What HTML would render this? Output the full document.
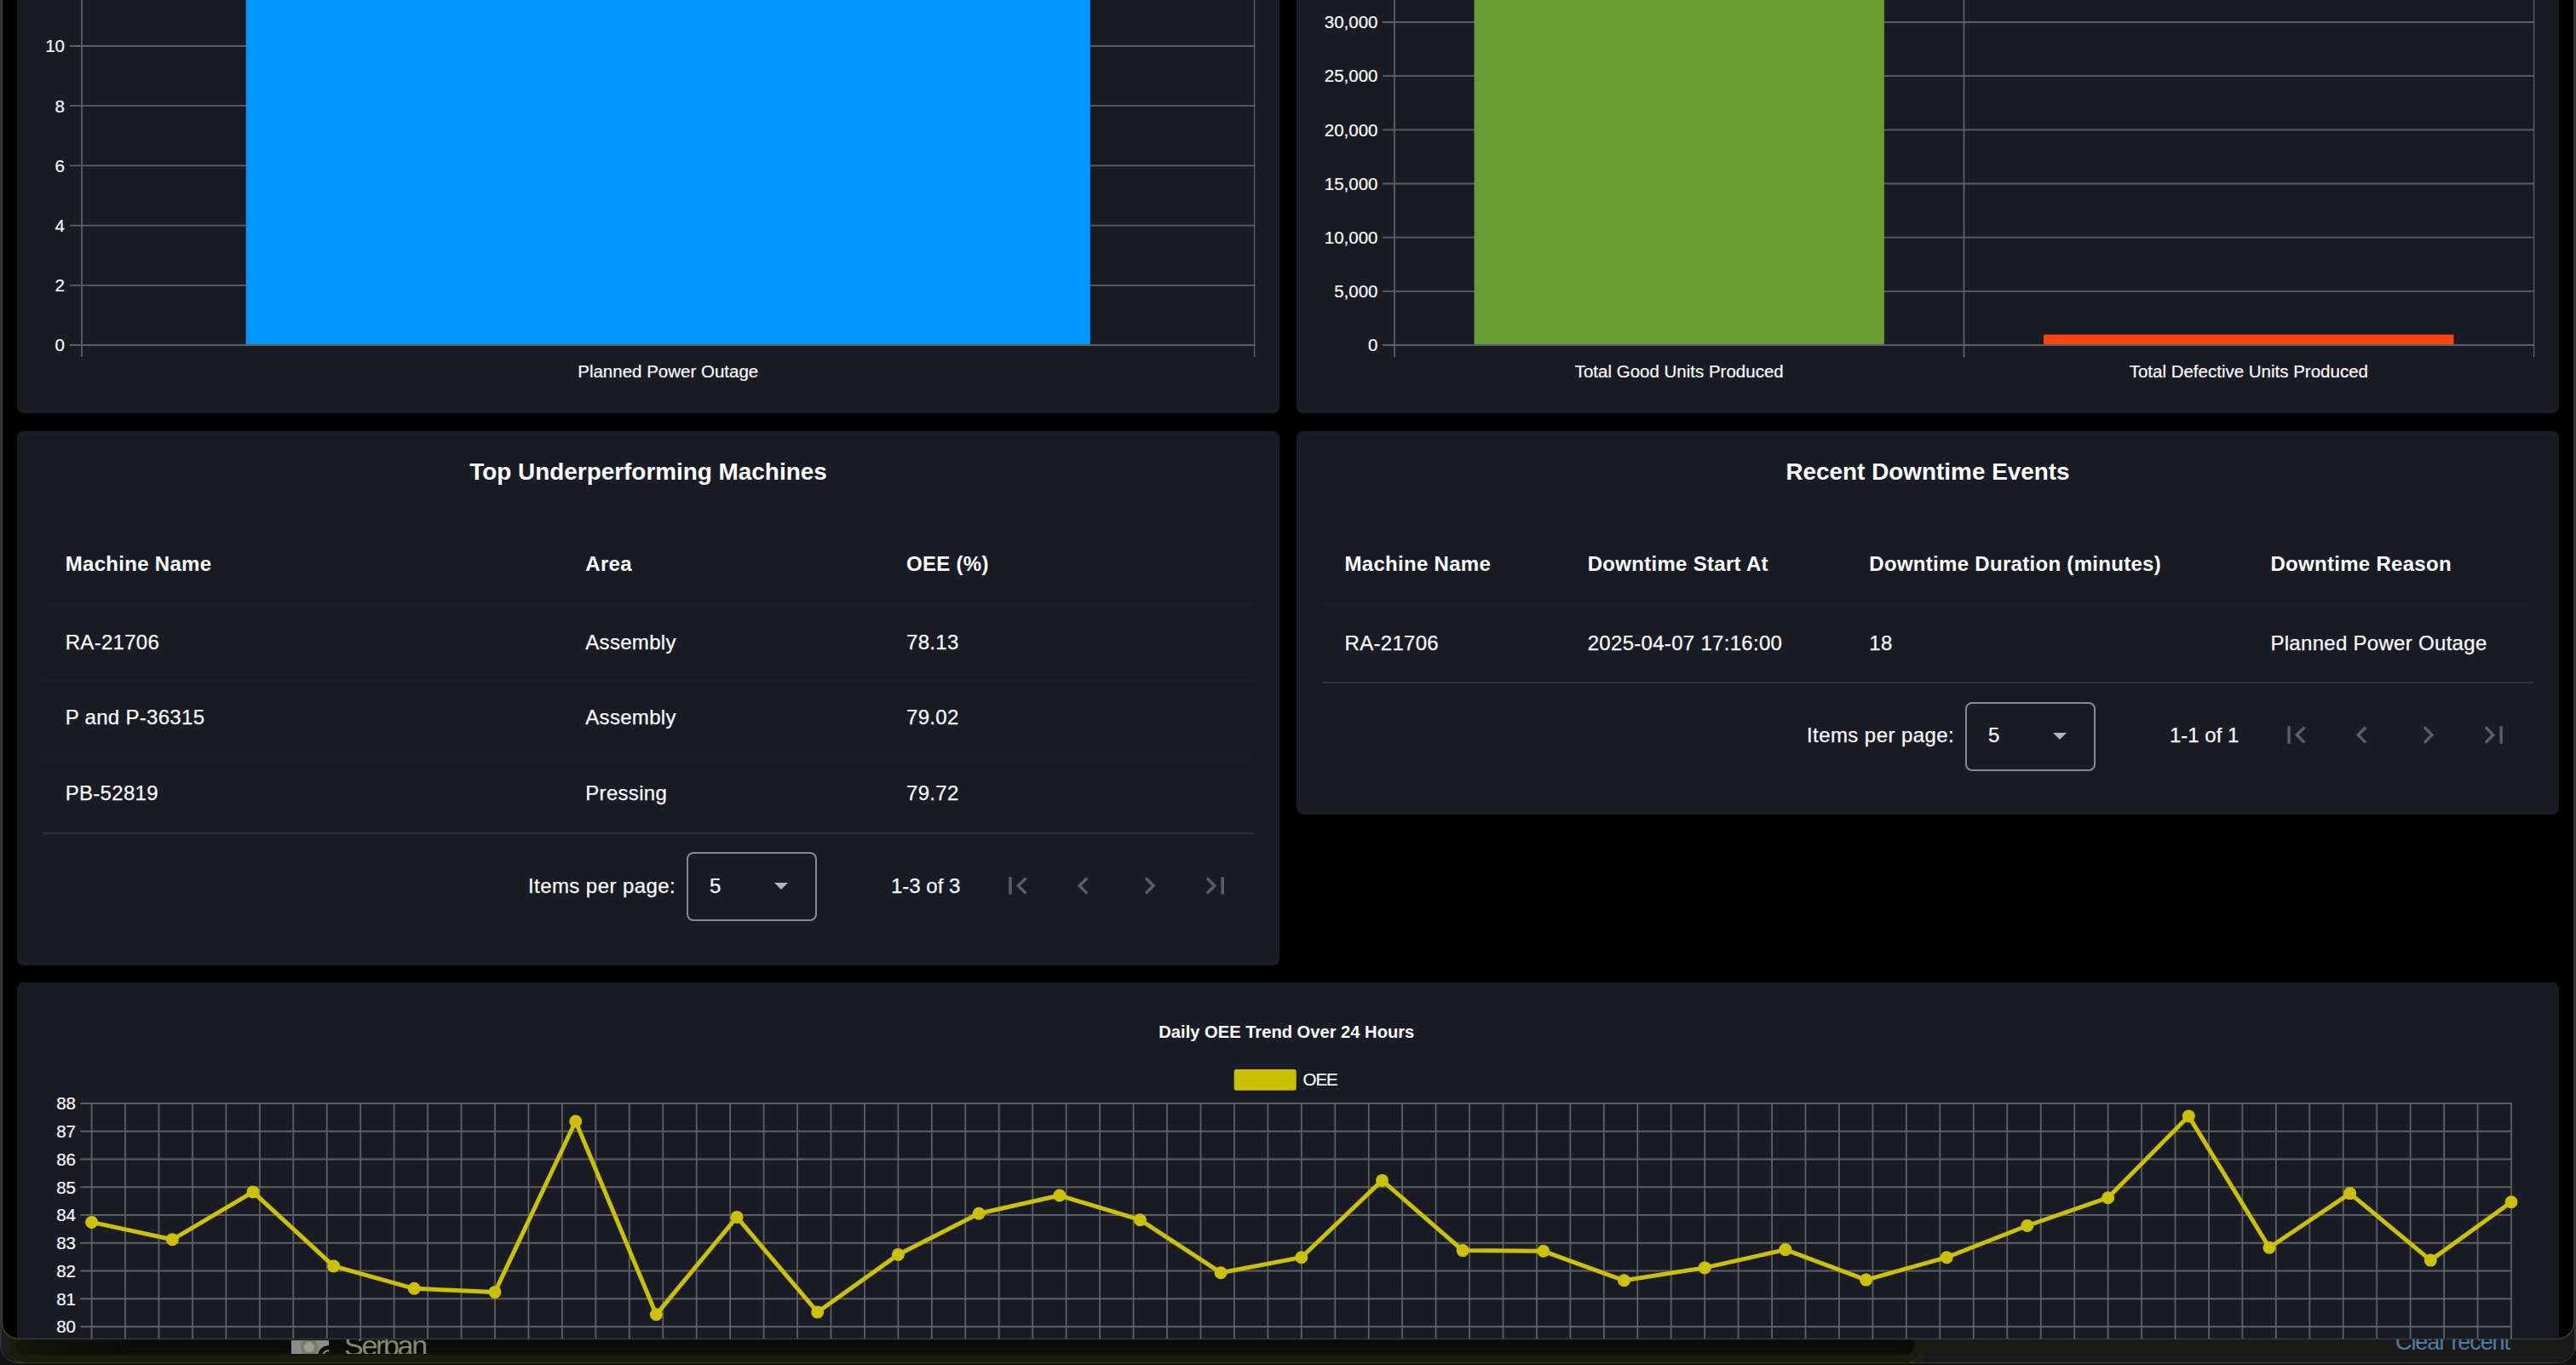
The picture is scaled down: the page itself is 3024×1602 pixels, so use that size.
<!DOCTYPE html>
<html lang="en"><head><meta charset="utf-8"><title>OEE Dashboard</title>
<style>
html,body{margin:0;padding:0;background:#000;}
body{width:3024px;height:1602px;position:relative;overflow:hidden;font-family:"Liberation Sans",Arial,Helvetica,sans-serif;color:#fafafa;}
.card{position:absolute;background:#1a1c25;border-radius:8px;}
.ct{font-family:"Liberation Sans",Arial,sans-serif;font-size:20.5px;fill:#fafafa;stroke:#fafafa;stroke-width:0.2px;}
.ctb{font-family:"Liberation Sans",Arial,sans-serif;font-size:20.15px;font-weight:bold;fill:#fff;}
#g{position:absolute;left:0;top:0;}
#winb{position:absolute;left:2px;top:-40px;width:3020px;height:1612px;border-radius:20px;box-sizing:border-box;border:1px solid #3f4146;border-top:none;}
.t{position:absolute;-webkit-text-stroke:0.25px #fafafa;font-size:24px;line-height:28px;white-space:nowrap;letter-spacing:0.3px;color:#fafafa;}
.pg{letter-spacing:0.42px;}
.rg{letter-spacing:0;}
.h{font-weight:bold;color:#fff;-webkit-text-stroke:0;}
.title{position:absolute;font-size:27.9px;line-height:32px;font-weight:bold;white-space:nowrap;color:#fff;text-align:center;}
.sep{position:absolute;height:2px;background:#1d1f28;}
.sep.s{background:#303238;}
.sel{position:absolute;width:149px;height:77px;border:2px solid #8a8a8a;border-radius:8px;}
.arrow{position:absolute;width:0;height:0;border-left:8.75px solid transparent;border-right:8.75px solid transparent;border-top:8.75px solid #b5b5b5;}
.ic{position:absolute;width:41.14px;height:41.14px;fill:#5e5e5e;}
#win{position:absolute;left:2px;top:-40px;width:3020px;height:1611.5px;background:#000;border-radius:20px;overflow:hidden;box-sizing:border-box;border:1px solid #3b3d42;border-top:none;}
#below{position:absolute;left:0;top:1540px;width:3024px;height:62px;background:#121212;overflow:hidden;}
#lstrip{position:absolute;left:0;top:0;width:2px;height:1580px;background:#2f3136;}
#rstrip{position:absolute;left:3022px;top:0;width:2px;height:1585px;background:#343539;}
</style></head><body>
<div id="below">
  <div style="position:absolute;left:0;top:0;width:3024px;height:60px;background:#1b1c20;border-radius:0 0 22px 22px;border:1px solid #3a3a3d;box-sizing:border-box;"></div>
  <div style="position:absolute;left:2258px;top:0;width:764px;height:59px;background:#1a1a19;border-radius:0 0 21px 0;"></div>
  <div style="position:absolute;left:10px;top:0;width:2248px;height:59.5px;border-radius:0 0 20px 20px;background:#1b1d0b;border-bottom:1.5px solid #35351f;box-sizing:border-box;"></div>
  <div style="position:absolute;left:18px;top:0;width:2229.5px;height:50px;border-radius:0 0 12px 12px;background:linear-gradient(to right,#16180a 0,#111208 40px,#0c0c0a 120px);"></div>
  <div style="position:absolute;left:141px;top:0;width:2106px;height:49px;border-radius:0 0 12px 12px;background:#0b0b0a;border:1px solid #161616;box-sizing:border-box;"></div>
  <div style="position:absolute;left:342px;top:33px;width:44px;height:16px;background:#8b8b8c;overflow:hidden;">
    <div style="position:absolute;left:11px;top:-4px;width:20px;height:24px;border-radius:50%;background:#77774f;opacity:.75"></div>
    <div style="position:absolute;left:15px;top:2px;width:12px;height:12px;border-radius:50%;background:#9a9a9a;"></div>
    <div style="position:absolute;left:31px;top:6px;width:26px;height:26px;border-radius:50%;background:#0c0c0a;"></div>
    <div style="position:absolute;left:36px;top:11px;width:16px;height:16px;border-radius:50%;border:2px solid #8b8b8c;box-sizing:border-box;"></div>
  </div>
  <div style="position:absolute;left:395px;top:32px;width:130px;height:17px;overflow:hidden;"><div style="position:absolute;left:9px;top:-9.8px;font-size:34px;line-height:34px;letter-spacing:-2.3px;color:#85886a;white-space:nowrap;">Serban</div></div>
  <div style="position:absolute;left:2812px;top:19.8px;font-size:27px;line-height:30px;letter-spacing:-1.1px;color:#4b7ea6;white-space:nowrap;">Clear recent</div>
</div>
<div id="lstrip"></div><div id="rstrip"></div>
<div id="win"></div>
<div class="card" style="left:20px;top:-20px;width:1482px;height:505px"></div>
<div class="card" style="left:1522px;top:-20px;width:1482px;height:505px"></div>
<div class="card" style="left:20px;top:506px;width:1482px;height:627px"></div>
<div class="card" style="left:1522px;top:506px;width:1482px;height:450px"></div>
<div class="card" style="left:20px;top:1153px;width:2984px;height:418px;border-radius:8px 8px 0 0"></div>
<svg id="g" width="3024" height="1571" viewBox="0 0 3024 1571">
<line x1="82" y1="405.0" x2="1473.5" y2="405.0" stroke="#606060" stroke-width="1.8"/>
<line x1="82" y1="334.8" x2="1473.5" y2="334.8" stroke="#606060" stroke-width="1.8"/>
<line x1="82" y1="264.6" x2="1473.5" y2="264.6" stroke="#606060" stroke-width="1.8"/>
<line x1="82" y1="194.39999999999998" x2="1473.5" y2="194.39999999999998" stroke="#606060" stroke-width="1.8"/>
<line x1="82" y1="124.19999999999999" x2="1473.5" y2="124.19999999999999" stroke="#606060" stroke-width="1.8"/>
<line x1="82" y1="54.0" x2="1473.5" y2="54.0" stroke="#606060" stroke-width="1.8"/>
<line x1="96" y1="-5" x2="96" y2="419" stroke="#606060" stroke-width="1.8"/>
<line x1="1472.6" y1="-5" x2="1472.6" y2="419" stroke="#606060" stroke-width="1.3"/>
<rect x="288.71" y="-5.00" width="991.08" height="409.00" fill="#0096ff"/>
<text x="76" y="412.3" text-anchor="end" class="ct">0</text>
<text x="76" y="342.1" text-anchor="end" class="ct">2</text>
<text x="76" y="271.9" text-anchor="end" class="ct">4</text>
<text x="76" y="201.7" text-anchor="end" class="ct">6</text>
<text x="76" y="131.5" text-anchor="end" class="ct">8</text>
<text x="76" y="61.3" text-anchor="end" class="ct">10</text>
<text x="784.2" y="442.8" text-anchor="middle" class="ct">Planned Power Outage</text>
<line x1="1623" y1="405.0" x2="2975" y2="405.0" stroke="#606060" stroke-width="1.8"/>
<line x1="1623" y1="341.83" x2="2975" y2="341.83" stroke="#606060" stroke-width="1.8"/>
<line x1="1623" y1="278.65999999999997" x2="2975" y2="278.65999999999997" stroke="#606060" stroke-width="1.8"/>
<line x1="1623" y1="215.49" x2="2975" y2="215.49" stroke="#606060" stroke-width="1.8"/>
<line x1="1623" y1="152.32" x2="2975" y2="152.32" stroke="#606060" stroke-width="1.8"/>
<line x1="1623" y1="89.14999999999998" x2="2975" y2="89.14999999999998" stroke="#606060" stroke-width="1.8"/>
<line x1="1623" y1="25.980000000000018" x2="2975" y2="25.980000000000018" stroke="#606060" stroke-width="1.8"/>
<line x1="1637" y1="-5" x2="1637" y2="419" stroke="#606060" stroke-width="1.8"/>
<line x1="2305.5" y1="-5" x2="2305.5" y2="419" stroke="#606060" stroke-width="1.8"/>
<line x1="2974.6" y1="-5" x2="2974.6" y2="419" stroke="#606060" stroke-width="1.3"/>
<rect x="1730.59" y="-5.00" width="481.32" height="409.00" fill="#689d35"/>
<rect x="2399.09" y="392.60" width="481.32" height="11.40" fill="#ff4411"/>
<text x="1617.5" y="412.3" text-anchor="end" class="ct">0</text>
<text x="1617.5" y="349.1" text-anchor="end" class="ct">5,000</text>
<text x="1617.5" y="286.0" text-anchor="end" class="ct">10,000</text>
<text x="1617.5" y="222.8" text-anchor="end" class="ct">15,000</text>
<text x="1617.5" y="159.6" text-anchor="end" class="ct">20,000</text>
<text x="1617.5" y="96.4" text-anchor="end" class="ct">25,000</text>
<text x="1617.5" y="33.3" text-anchor="end" class="ct">30,000</text>
<text x="1971.2" y="442.8" text-anchor="middle" class="ct">Total Good Units Produced</text>
<text x="2639.8" y="442.8" text-anchor="middle" class="ct">Total Defective Units Produced</text>
<line x1="107.60" y1="1294" x2="107.60" y2="1580" stroke="#606060" stroke-width="1.8"/>
<line x1="147.05" y1="1294" x2="147.05" y2="1580" stroke="#606060" stroke-width="1.8"/>
<line x1="186.50" y1="1294" x2="186.50" y2="1580" stroke="#606060" stroke-width="1.8"/>
<line x1="225.95" y1="1294" x2="225.95" y2="1580" stroke="#606060" stroke-width="1.8"/>
<line x1="265.40" y1="1294" x2="265.40" y2="1580" stroke="#606060" stroke-width="1.8"/>
<line x1="304.85" y1="1294" x2="304.85" y2="1580" stroke="#606060" stroke-width="1.8"/>
<line x1="344.30" y1="1294" x2="344.30" y2="1580" stroke="#606060" stroke-width="1.8"/>
<line x1="383.75" y1="1294" x2="383.75" y2="1580" stroke="#606060" stroke-width="1.8"/>
<line x1="423.20" y1="1294" x2="423.20" y2="1580" stroke="#606060" stroke-width="1.8"/>
<line x1="462.65" y1="1294" x2="462.65" y2="1580" stroke="#606060" stroke-width="1.8"/>
<line x1="502.10" y1="1294" x2="502.10" y2="1580" stroke="#606060" stroke-width="1.8"/>
<line x1="541.55" y1="1294" x2="541.55" y2="1580" stroke="#606060" stroke-width="1.8"/>
<line x1="581.00" y1="1294" x2="581.00" y2="1580" stroke="#606060" stroke-width="1.8"/>
<line x1="620.45" y1="1294" x2="620.45" y2="1580" stroke="#606060" stroke-width="1.8"/>
<line x1="659.90" y1="1294" x2="659.90" y2="1580" stroke="#606060" stroke-width="1.8"/>
<line x1="699.35" y1="1294" x2="699.35" y2="1580" stroke="#606060" stroke-width="1.8"/>
<line x1="738.80" y1="1294" x2="738.80" y2="1580" stroke="#606060" stroke-width="1.8"/>
<line x1="778.25" y1="1294" x2="778.25" y2="1580" stroke="#606060" stroke-width="1.8"/>
<line x1="817.70" y1="1294" x2="817.70" y2="1580" stroke="#606060" stroke-width="1.8"/>
<line x1="857.15" y1="1294" x2="857.15" y2="1580" stroke="#606060" stroke-width="1.8"/>
<line x1="896.60" y1="1294" x2="896.60" y2="1580" stroke="#606060" stroke-width="1.8"/>
<line x1="936.05" y1="1294" x2="936.05" y2="1580" stroke="#606060" stroke-width="1.8"/>
<line x1="975.50" y1="1294" x2="975.50" y2="1580" stroke="#606060" stroke-width="1.8"/>
<line x1="1014.95" y1="1294" x2="1014.95" y2="1580" stroke="#606060" stroke-width="1.8"/>
<line x1="1054.40" y1="1294" x2="1054.40" y2="1580" stroke="#606060" stroke-width="1.8"/>
<line x1="1093.85" y1="1294" x2="1093.85" y2="1580" stroke="#606060" stroke-width="1.8"/>
<line x1="1133.30" y1="1294" x2="1133.30" y2="1580" stroke="#606060" stroke-width="1.8"/>
<line x1="1172.75" y1="1294" x2="1172.75" y2="1580" stroke="#606060" stroke-width="1.8"/>
<line x1="1212.20" y1="1294" x2="1212.20" y2="1580" stroke="#606060" stroke-width="1.8"/>
<line x1="1251.65" y1="1294" x2="1251.65" y2="1580" stroke="#606060" stroke-width="1.8"/>
<line x1="1291.10" y1="1294" x2="1291.10" y2="1580" stroke="#606060" stroke-width="1.8"/>
<line x1="1330.55" y1="1294" x2="1330.55" y2="1580" stroke="#606060" stroke-width="1.8"/>
<line x1="1370.00" y1="1294" x2="1370.00" y2="1580" stroke="#606060" stroke-width="1.8"/>
<line x1="1409.45" y1="1294" x2="1409.45" y2="1580" stroke="#606060" stroke-width="1.8"/>
<line x1="1448.90" y1="1294" x2="1448.90" y2="1580" stroke="#606060" stroke-width="1.8"/>
<line x1="1488.35" y1="1294" x2="1488.35" y2="1580" stroke="#606060" stroke-width="1.8"/>
<line x1="1527.80" y1="1294" x2="1527.80" y2="1580" stroke="#606060" stroke-width="1.8"/>
<line x1="1567.25" y1="1294" x2="1567.25" y2="1580" stroke="#606060" stroke-width="1.8"/>
<line x1="1606.70" y1="1294" x2="1606.70" y2="1580" stroke="#606060" stroke-width="1.8"/>
<line x1="1646.15" y1="1294" x2="1646.15" y2="1580" stroke="#606060" stroke-width="1.8"/>
<line x1="1685.60" y1="1294" x2="1685.60" y2="1580" stroke="#606060" stroke-width="1.8"/>
<line x1="1725.05" y1="1294" x2="1725.05" y2="1580" stroke="#606060" stroke-width="1.8"/>
<line x1="1764.50" y1="1294" x2="1764.50" y2="1580" stroke="#606060" stroke-width="1.8"/>
<line x1="1803.95" y1="1294" x2="1803.95" y2="1580" stroke="#606060" stroke-width="1.8"/>
<line x1="1843.40" y1="1294" x2="1843.40" y2="1580" stroke="#606060" stroke-width="1.8"/>
<line x1="1882.85" y1="1294" x2="1882.85" y2="1580" stroke="#606060" stroke-width="1.8"/>
<line x1="1922.30" y1="1294" x2="1922.30" y2="1580" stroke="#606060" stroke-width="1.8"/>
<line x1="1961.75" y1="1294" x2="1961.75" y2="1580" stroke="#606060" stroke-width="1.8"/>
<line x1="2001.20" y1="1294" x2="2001.20" y2="1580" stroke="#606060" stroke-width="1.8"/>
<line x1="2040.65" y1="1294" x2="2040.65" y2="1580" stroke="#606060" stroke-width="1.8"/>
<line x1="2080.10" y1="1294" x2="2080.10" y2="1580" stroke="#606060" stroke-width="1.8"/>
<line x1="2119.55" y1="1294" x2="2119.55" y2="1580" stroke="#606060" stroke-width="1.8"/>
<line x1="2159.00" y1="1294" x2="2159.00" y2="1580" stroke="#606060" stroke-width="1.8"/>
<line x1="2198.45" y1="1294" x2="2198.45" y2="1580" stroke="#606060" stroke-width="1.8"/>
<line x1="2237.90" y1="1294" x2="2237.90" y2="1580" stroke="#606060" stroke-width="1.8"/>
<line x1="2277.35" y1="1294" x2="2277.35" y2="1580" stroke="#606060" stroke-width="1.8"/>
<line x1="2316.80" y1="1294" x2="2316.80" y2="1580" stroke="#606060" stroke-width="1.8"/>
<line x1="2356.25" y1="1294" x2="2356.25" y2="1580" stroke="#606060" stroke-width="1.8"/>
<line x1="2395.70" y1="1294" x2="2395.70" y2="1580" stroke="#606060" stroke-width="1.8"/>
<line x1="2435.15" y1="1294" x2="2435.15" y2="1580" stroke="#606060" stroke-width="1.8"/>
<line x1="2474.60" y1="1294" x2="2474.60" y2="1580" stroke="#606060" stroke-width="1.8"/>
<line x1="2514.05" y1="1294" x2="2514.05" y2="1580" stroke="#606060" stroke-width="1.8"/>
<line x1="2553.50" y1="1294" x2="2553.50" y2="1580" stroke="#606060" stroke-width="1.8"/>
<line x1="2592.95" y1="1294" x2="2592.95" y2="1580" stroke="#606060" stroke-width="1.8"/>
<line x1="2632.40" y1="1294" x2="2632.40" y2="1580" stroke="#606060" stroke-width="1.8"/>
<line x1="2671.85" y1="1294" x2="2671.85" y2="1580" stroke="#606060" stroke-width="1.8"/>
<line x1="2711.30" y1="1294" x2="2711.30" y2="1580" stroke="#606060" stroke-width="1.8"/>
<line x1="2750.75" y1="1294" x2="2750.75" y2="1580" stroke="#606060" stroke-width="1.8"/>
<line x1="2790.20" y1="1294" x2="2790.20" y2="1580" stroke="#606060" stroke-width="1.8"/>
<line x1="2829.65" y1="1294" x2="2829.65" y2="1580" stroke="#606060" stroke-width="1.8"/>
<line x1="2869.10" y1="1294" x2="2869.10" y2="1580" stroke="#606060" stroke-width="1.8"/>
<line x1="2908.55" y1="1294" x2="2908.55" y2="1580" stroke="#606060" stroke-width="1.8"/>
<line x1="2948.00" y1="1294" x2="2948.00" y2="1580" stroke="#606060" stroke-width="1.8"/>
<line x1="94.4" y1="1295.00" x2="2949.0" y2="1295.00" stroke="#606060" stroke-width="1.8"/>
<text x="89" y="1302.3" text-anchor="end" class="ct">88</text>
<line x1="94.4" y1="1327.75" x2="2949.0" y2="1327.75" stroke="#606060" stroke-width="1.8"/>
<text x="89" y="1335.0" text-anchor="end" class="ct">87</text>
<line x1="94.4" y1="1360.50" x2="2949.0" y2="1360.50" stroke="#606060" stroke-width="1.8"/>
<text x="89" y="1367.8" text-anchor="end" class="ct">86</text>
<line x1="94.4" y1="1393.25" x2="2949.0" y2="1393.25" stroke="#606060" stroke-width="1.8"/>
<text x="89" y="1400.5" text-anchor="end" class="ct">85</text>
<line x1="94.4" y1="1426.00" x2="2949.0" y2="1426.00" stroke="#606060" stroke-width="1.8"/>
<text x="89" y="1433.3" text-anchor="end" class="ct">84</text>
<line x1="94.4" y1="1458.75" x2="2949.0" y2="1458.75" stroke="#606060" stroke-width="1.8"/>
<text x="89" y="1466.0" text-anchor="end" class="ct">83</text>
<line x1="94.4" y1="1491.50" x2="2949.0" y2="1491.50" stroke="#606060" stroke-width="1.8"/>
<text x="89" y="1498.8" text-anchor="end" class="ct">82</text>
<line x1="94.4" y1="1524.25" x2="2949.0" y2="1524.25" stroke="#606060" stroke-width="1.8"/>
<text x="89" y="1531.5" text-anchor="end" class="ct">81</text>
<line x1="94.4" y1="1557.00" x2="2949.0" y2="1557.00" stroke="#606060" stroke-width="1.8"/>
<text x="89" y="1564.3" text-anchor="end" class="ct">80</text>
<polyline fill="none" stroke="#cbc100" stroke-width="5" stroke-linejoin="round" points="107.6,1434.4 202.3,1454.8 297.0,1398.9 391.6,1485.9 486.3,1512.3 581.0,1516.4 675.7,1316.0 770.4,1542.8 865.0,1428.4 959.7,1540.0 1054.4,1472.4 1149.1,1424.3 1243.8,1403.0 1338.4,1431.7 1433.1,1493.7 1527.8,1475.7 1622.5,1385.4 1717.2,1467.6 1811.8,1468.3 1906.5,1502.8 2001.2,1487.9 2095.9,1466.6 2190.6,1502.1 2285.2,1475.7 2379.9,1438.5 2474.6,1405.7 2569.3,1309.9 2664.0,1464.2 2758.6,1400.6 2853.3,1479.1 2948.0,1410.8"/>
<circle cx="107.6" cy="1434.4" r="7.5" fill="#cbc100"/>
<circle cx="202.3" cy="1454.8" r="7.5" fill="#cbc100"/>
<circle cx="297.0" cy="1398.9" r="7.5" fill="#cbc100"/>
<circle cx="391.6" cy="1485.9" r="7.5" fill="#cbc100"/>
<circle cx="486.3" cy="1512.3" r="7.5" fill="#cbc100"/>
<circle cx="581.0" cy="1516.4" r="7.5" fill="#cbc100"/>
<circle cx="675.7" cy="1316.0" r="7.5" fill="#cbc100"/>
<circle cx="770.4" cy="1542.8" r="7.5" fill="#cbc100"/>
<circle cx="865.0" cy="1428.4" r="7.5" fill="#cbc100"/>
<circle cx="959.7" cy="1540.0" r="7.5" fill="#cbc100"/>
<circle cx="1054.4" cy="1472.4" r="7.5" fill="#cbc100"/>
<circle cx="1149.1" cy="1424.3" r="7.5" fill="#cbc100"/>
<circle cx="1243.8" cy="1403.0" r="7.5" fill="#cbc100"/>
<circle cx="1338.4" cy="1431.7" r="7.5" fill="#cbc100"/>
<circle cx="1433.1" cy="1493.7" r="7.5" fill="#cbc100"/>
<circle cx="1527.8" cy="1475.7" r="7.5" fill="#cbc100"/>
<circle cx="1622.5" cy="1385.4" r="7.5" fill="#cbc100"/>
<circle cx="1717.2" cy="1467.6" r="7.5" fill="#cbc100"/>
<circle cx="1811.8" cy="1468.3" r="7.5" fill="#cbc100"/>
<circle cx="1906.5" cy="1502.8" r="7.5" fill="#cbc100"/>
<circle cx="2001.2" cy="1487.9" r="7.5" fill="#cbc100"/>
<circle cx="2095.9" cy="1466.6" r="7.5" fill="#cbc100"/>
<circle cx="2190.6" cy="1502.1" r="7.5" fill="#cbc100"/>
<circle cx="2285.2" cy="1475.7" r="7.5" fill="#cbc100"/>
<circle cx="2379.9" cy="1438.5" r="7.5" fill="#cbc100"/>
<circle cx="2474.6" cy="1405.7" r="7.5" fill="#cbc100"/>
<circle cx="2569.3" cy="1309.9" r="7.5" fill="#cbc100"/>
<circle cx="2664.0" cy="1464.2" r="7.5" fill="#cbc100"/>
<circle cx="2758.6" cy="1400.6" r="7.5" fill="#cbc100"/>
<circle cx="2853.3" cy="1479.1" r="7.5" fill="#cbc100"/>
<circle cx="2948.0" cy="1410.8" r="7.5" fill="#cbc100"/>
<rect x="1448.7" y="1255" width="73" height="24.8" rx="2.5" fill="#cbc100"/>
<text x="1529.5" y="1273.9" class="ct" style="letter-spacing:-1px">OEE</text>
<text x="1510.3" y="1218.3" text-anchor="middle" class="ctb">Daily OEE Trend Over 24 Hours</text>
</svg>
<div id="winb"></div>

<!-- left table -->
<div class="title" style="left:20px;width:1482px;top:538px">Top Underperforming Machines</div>
<div class="t h" style="left:76.7px;top:648px">Machine Name</div>
<div class="t h" style="left:687.3px;top:648px">Area</div>
<div class="t h" style="left:1064px;top:648px">OEE (%)</div>
<div class="sep" style="left:50px;width:1422px;top:709px"></div>
<div class="t" style="left:76.7px;top:740px">RA-21706</div>
<div class="t" style="left:687.3px;top:740px">Assembly</div>
<div class="t" style="left:1064px;top:740px">78.13</div>
<div class="sep" style="left:50px;width:1422px;top:798px"></div>
<div class="t" style="left:76.7px;top:828px">P and P-36315</div>
<div class="t" style="left:687.3px;top:828px">Assembly</div>
<div class="t" style="left:1064px;top:828px">79.02</div>
<div class="sep" style="left:50px;width:1422px;top:887px"></div>
<div class="t" style="left:76.7px;top:917px">PB-52819</div>
<div class="t" style="left:687.3px;top:917px">Pressing</div>
<div class="t" style="left:1064px;top:917px">79.72</div>
<div class="sep s" style="left:50px;width:1422px;top:977px"></div>
<div class="t pg" style="left:620px;top:1026px">Items per page:</div>
<div class="sel" style="left:806.25px;top:1000.4px"></div>
<div class="t" style="left:833px;top:1026px">5</div>
<div class="arrow" style="left:908.75px;top:1036.25px"></div>
<div class="t rg" style="left:1046px;top:1026px">1-3 of 3</div>
<svg class="ic" style="left:1173.8px;top:1018.9px" viewBox="0 0 24 24"><path d="M18.41 16.59L13.82 12l4.59-4.59L17 6l-6 6 6 6zM6 6h2v12H6z"/></svg>
<svg class="ic" style="left:1250.8px;top:1018.9px" viewBox="0 0 24 24"><path d="M15.41 7.41L14 6l-6 6 6 6 1.41-1.41L10.83 12z"/></svg>
<svg class="ic" style="left:1328.6px;top:1018.9px" viewBox="0 0 24 24"><path d="M10 6L8.59 7.41 13.17 12l-4.58 4.59L10 18l6-6z"/></svg>
<svg class="ic" style="left:1405.9px;top:1018.9px" viewBox="0 0 24 24"><path d="M5.59 7.41L10.18 12l-4.59 4.59L7 18l6-6-6-6zM16 6h2v12h-2z"/></svg>

<!-- right table -->
<div class="title" style="left:1522px;width:1482px;top:538px">Recent Downtime Events</div>
<div class="t h" style="left:1578.5px;top:648px">Machine Name</div>
<div class="t h" style="left:1863.7px;top:648px">Downtime Start At</div>
<div class="t h" style="left:2194.3px;top:648px">Downtime Duration (minutes)</div>
<div class="t h" style="left:2665.4px;top:648px">Downtime Reason</div>
<div class="sep" style="left:1552px;width:1422px;top:709px"></div>
<div class="t" style="left:1578.5px;top:741px">RA-21706</div>
<div class="t" style="left:1863.7px;top:741px">2025-04-07 17:16:00</div>
<div class="t" style="left:2194.3px;top:741px">18</div>
<div class="t" style="left:2665.4px;top:741px">Planned Power Outage</div>
<div class="sep s" style="left:1552px;width:1422px;top:800px"></div>
<div class="t pg" style="left:2121px;top:849.3px">Items per page:</div>
<div class="sel" style="left:2307.25px;top:823.7px"></div>
<div class="t" style="left:2334px;top:849.3px">5</div>
<div class="arrow" style="left:2409.75px;top:859.55px"></div>
<div class="t rg" style="left:2547px;top:849.3px">1-1 of 1</div>
<svg class="ic" style="left:2674.8px;top:842.2px" viewBox="0 0 24 24"><path d="M18.41 16.59L13.82 12l4.59-4.59L17 6l-6 6 6 6zM6 6h2v12H6z"/></svg>
<svg class="ic" style="left:2751.8px;top:842.2px" viewBox="0 0 24 24"><path d="M15.41 7.41L14 6l-6 6 6 6 1.41-1.41L10.83 12z"/></svg>
<svg class="ic" style="left:2829.6px;top:842.2px" viewBox="0 0 24 24"><path d="M10 6L8.59 7.41 13.17 12l-4.58 4.59L10 18l6-6z"/></svg>
<svg class="ic" style="left:2906.9px;top:842.2px" viewBox="0 0 24 24"><path d="M5.59 7.41L10.18 12l-4.59 4.59L7 18l6-6-6-6zM16 6h2v12h-2z"/></svg>
</body></html>
